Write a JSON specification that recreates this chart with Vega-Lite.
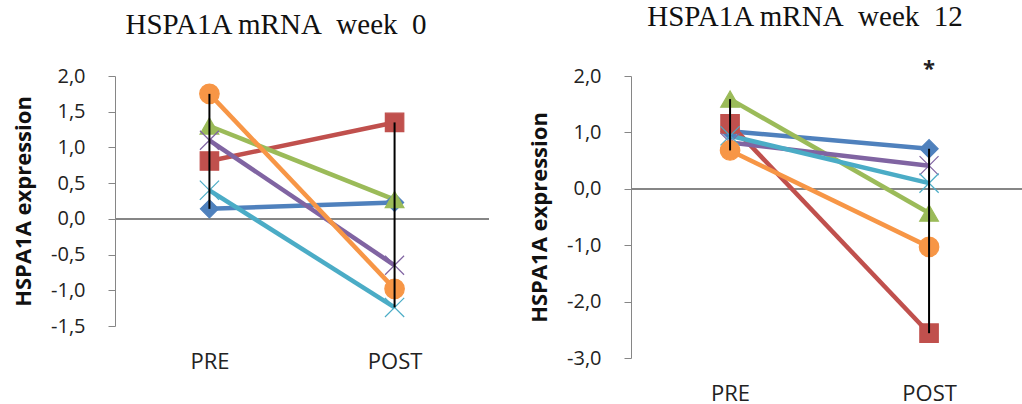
{
  "$schema": "https://vega.github.io/schema/vega-lite/v6.json",
  "padding": {"left": 12, "top": 3, "right": 0, "bottom": 0},
  "spacing": 38,
  "background": "white",
  "config": {
    "view": {"stroke": null},
    "axis": {"labelFont": "Open Sans", "labelColor": "#222222", "labelFontSize": 20, "titleFont": "Open Sans", "titleFontSize": 22, "titleFontWeight": "bold", "titleColor": "#111111", "grid": false},
    "axisY": {"domainColor": "#868686", "tickColor": "#868686", "tickSize": 7, "labelPadding": 23, "titlePadding": 15},
    "axisX": {"domain": false, "ticks": false, "labelAngle": 0, "labelPadding": 25, "labelFontSize": 22, "title": null},
    "title": {"font": "Liberation Serif", "fontSize": 29, "fontWeight": "normal", "color": "#111111", "anchor": "middle", "frame": "group"}
  },
  "datasets": {
    "w0": [
      {"series": "S1", "time": "PRE", "value": 0.14}, {"series": "S1", "time": "POST", "value": 0.23},
      {"series": "S2", "time": "PRE", "value": 0.81}, {"series": "S2", "time": "POST", "value": 1.35},
      {"series": "S3", "time": "PRE", "value": 1.30}, {"series": "S3", "time": "POST", "value": 0.27},
      {"series": "S4", "time": "PRE", "value": 1.10}, {"series": "S4", "time": "POST", "value": -0.65},
      {"series": "S5", "time": "PRE", "value": 0.40}, {"series": "S5", "time": "POST", "value": -1.24},
      {"series": "S6", "time": "PRE", "value": 1.75}, {"series": "S6", "time": "POST", "value": -0.98}
    ],
    "w12": [
      {"series": "S1", "time": "PRE", "value": 1.02}, {"series": "S1", "time": "POST", "value": 0.71},
      {"series": "S2", "time": "PRE", "value": 1.15}, {"series": "S2", "time": "POST", "value": -2.56},
      {"series": "S3", "time": "PRE", "value": 1.59}, {"series": "S3", "time": "POST", "value": -0.43},
      {"series": "S4", "time": "PRE", "value": 0.82}, {"series": "S4", "time": "POST", "value": 0.41},
      {"series": "S5", "time": "PRE", "value": 0.94}, {"series": "S5", "time": "POST", "value": 0.10},
      {"series": "S6", "time": "PRE", "value": 0.68}, {"series": "S6", "time": "POST", "value": -1.03}
    ],
    "stars": [{"time": "POST", "value": 2.12, "label": "*"}]
  },
  "hconcat": [
    {
      "width": 374, "height": 250,
      "title": {"text": "HSPA1A mRNA\u00a0 week\u00a0 0", "dx": -26, "offset": 26},
      "data": {"name": "w0"},
      "encoding": {
        "x": {"field": "time", "type": "nominal", "scale": {"type": "point", "domain": ["PRE", "POST"], "padding": 0.51}},
        "y": {"field": "value", "type": "quantitative", "scale": {"domain": [-1.5, 2], "nice": false, "zero": false},
              "axis": {"title": "HSPA1A expression", "values": [-1.5, -1, -0.5, 0, 0.5, 1, 1.5, 2],
                       "labelExpr": "(datum.value < 0 ? '-' : '') + replace(format(abs(datum.value), '.1f'), '.', ',')"}}
      },
      "layer": [
        {"mark": {"type": "rule", "color": "#868686", "strokeWidth": 1.3}, "encoding": {"x": null, "y": {"datum": 0}}},
        {"mark": {"type": "line", "strokeWidth": 4.5},
         "encoding": {"color": {"field": "series", "type": "nominal", "legend": null,
                                "scale": {"domain": ["S1", "S2", "S3", "S4", "S5", "S6"], "range": ["#4F81BD", "#C0504D", "#9BBB59", "#8064A2", "#4BACC6", "#F79646"]}}}},
        {"mark": {"type": "point", "filled": true, "opacity": 1, "strokeWidth": 1.2},
         "encoding": {
           "fill": {"field": "series", "type": "nominal", "legend": null, "scale": {"domain": ["S1", "S2", "S3", "S4", "S5", "S6"], "range": ["#4F81BD", "#C0504D", "#9BBB59", "#8064A2", "#4BACC6", "#F79646"]}},
           "stroke": {"field": "series", "type": "nominal", "legend": null, "scale": {"domain": ["S1", "S2", "S3", "S4", "S5", "S6"], "range": ["#4F81BD", "#C0504D", "#9BBB59", "#8064A2", "#4BACC6", "#F79646"]}},
           "shape": {"field": "series", "type": "nominal", "legend": null, "scale": {"domain": ["S1", "S2", "S3", "S4", "S5", "S6"], "range": ["diamond", "square", "triangle-up", "M-1,-1L1,1M-1,1L1,-1", "M-1,-1L1,1M-1,1L1,-1", "circle"]}},
           "size": {"field": "series", "type": "nominal", "legend": null, "scale": {"domain": ["S1", "S2", "S3", "S4", "S5", "S6"], "range": [330, 380, 420, 480, 480, 400]}}
         }},
        {"mark": {"type": "rule", "color": "#000000", "strokeWidth": 2},
         "encoding": {"y": {"aggregate": "min", "field": "value", "type": "quantitative"}, "y2": {"aggregate": "max", "field": "value"}}}
      ]
    },
    {
      "width": 394, "height": 282,
      "title": {"text": "HSPA1A mRNA\u00a0 week\u00a0 12", "dx": -23, "offset": 26},
      "data": {"name": "w12"},
      "encoding": {
        "x": {"field": "time", "type": "nominal", "scale": {"type": "point", "domain": ["PRE", "POST"], "padding": 0.49, "align": 0.508}},
        "y": {"field": "value", "type": "quantitative", "scale": {"domain": [-3, 2], "nice": false, "zero": false},
              "axis": {"title": "HSPA1A expression", "values": [-3, -2, -1, 0, 1, 2],
                       "labelExpr": "(datum.value < 0 ? '-' : '') + replace(format(abs(datum.value), '.1f'), '.', ',')"}}
      },
      "layer": [
        {"mark": {"type": "rule", "color": "#868686", "strokeWidth": 1.3}, "encoding": {"x": null, "y": {"datum": 0}}},
        {"mark": {"type": "line", "strokeWidth": 4.5},
         "encoding": {"color": {"field": "series", "type": "nominal", "legend": null,
                                "scale": {"domain": ["S1", "S2", "S3", "S4", "S5", "S6"], "range": ["#4F81BD", "#C0504D", "#9BBB59", "#8064A2", "#4BACC6", "#F79646"]}}}},
        {"mark": {"type": "point", "filled": true, "opacity": 1, "strokeWidth": 1.2},
         "encoding": {
           "fill": {"field": "series", "type": "nominal", "legend": null, "scale": {"domain": ["S1", "S2", "S3", "S4", "S5", "S6"], "range": ["#4F81BD", "#C0504D", "#9BBB59", "#8064A2", "#4BACC6", "#F79646"]}},
           "stroke": {"field": "series", "type": "nominal", "legend": null, "scale": {"domain": ["S1", "S2", "S3", "S4", "S5", "S6"], "range": ["#4F81BD", "#C0504D", "#9BBB59", "#8064A2", "#4BACC6", "#F79646"]}},
           "shape": {"field": "series", "type": "nominal", "legend": null, "scale": {"domain": ["S1", "S2", "S3", "S4", "S5", "S6"], "range": ["diamond", "square", "triangle-up", "M-1,-1L1,1M-1,1L1,-1", "M-1,-1L1,1M-1,1L1,-1", "circle"]}},
           "size": {"field": "series", "type": "nominal", "legend": null, "scale": {"domain": ["S1", "S2", "S3", "S4", "S5", "S6"], "range": [330, 380, 420, 480, 480, 400]}}
         }},
        {"mark": {"type": "rule", "color": "#000000", "strokeWidth": 2},
         "encoding": {"y": {"aggregate": "min", "field": "value", "type": "quantitative"}, "y2": {"aggregate": "max", "field": "value"}}},
        {"data": {"name": "stars"}, "mark": {"type": "text", "font": "Open Sans", "fontSize": 22, "fontWeight": "bold", "color": "#222222"},
         "encoding": {"text": {"field": "label"}}}
      ]
    }
  ]
}
